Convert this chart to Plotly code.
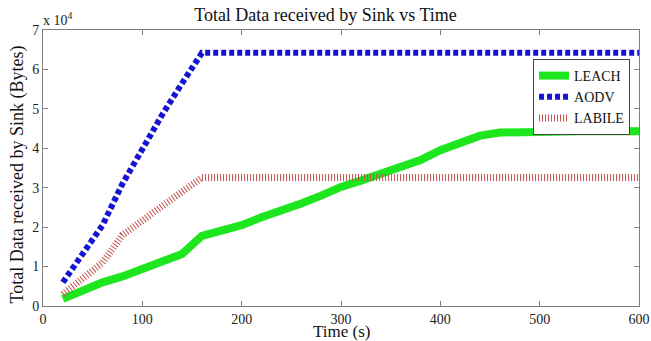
import plotly.graph_objects as go

# Simulation time (s)
time_s = [20, 40, 60, 80, 100, 120, 140, 160, 180, 200, 220, 240, 260, 280, 300,
          320, 340, 360, 380, 400, 420, 440, 460, 480, 500, 520, 540, 560, 580, 600]

# Cumulative bytes received by the sink
leach = [1800, 4000, 6000, 7500, 9500, 11500, 13200, 17800, 19000, 20500, 22500, 24000,
         26000, 28000, 30200, 31800, 33500, 35500, 37000, 39500, 41500, 43200, 44000,
         44200, 44300, 44300, 44300, 44400, 44300, 44300]
aodv = [6000, 13000, 20500, 31000, 40000, 48500, 56500, 64200, 64200, 64200, 64200, 64200,
        64200, 64200, 64200, 64200, 64200, 64200, 64200, 64200, 64200, 64200, 64200,
        64200, 64200, 64200, 64200, 64200, 64200, 64200]
labile = [3000, 7000, 11000, 18000, 21800, 25400, 29000, 32600, 32600, 32600, 32600, 32600,
          32600, 32600, 32600, 32600, 32600, 32600, 32600, 32600, 32600, 32600, 32600,
          32600, 32600, 32600, 32600, 32600, 32600, 32600]

x_ticks = [0, 100, 200, 300, 400, 500, 600]
y_ticks = [0, 10000, 20000, 30000, 40000, 50000, 60000, 70000]
y_tick_text = ["0", "1", "2", "3", "4", "5", "6", "7"]

serif = "Liberation Serif, Times New Roman, serif"

fig = go.Figure()
fig.add_trace(go.Scatter(x=time_s, y=leach, name="LEACH", mode="lines",
                         line=dict(color="#1ee61e", width=8)))
fig.add_trace(go.Scatter(x=time_s, y=aodv, name="AODV", mode="lines",
                         line=dict(color="#1414d2", width=6, dash="5px,3px")))
fig.add_trace(go.Scatter(x=time_s, y=labile, name="LABILE", mode="lines",
                         line=dict(color="#c0504d", width=7, dash="1px,2px")))

axis_common = dict(showgrid=False, zeroline=False, showline=True, linecolor="#808080",
                   linewidth=1, mirror="ticks", ticks="inside", ticklen=5,
                   tickcolor="#808080", automargin=False,
                   tickfont=dict(family=serif, size=14, color="#222"))

fig.update_xaxes(range=[0, 600], tickvals=x_ticks, **axis_common)
fig.update_yaxes(range=[0, 70000], tickvals=y_ticks, ticktext=y_tick_text, **axis_common)

fig.update_layout(
    width=651, height=341,
    margin=dict(l=43, r=12, t=30, b=35),
    paper_bgcolor="white", plot_bgcolor="white",
    title=dict(text="Total Data received by Sink vs Time", x=0.5, xanchor="center",
               y=0.975, yanchor="top",
               font=dict(family=serif, size=18, color="#111")),
    legend=dict(x=0.985, xanchor="right", y=0.895, yanchor="top",
                bgcolor="white", bordercolor="#444", borderwidth=1,
                font=dict(family=serif, size=14, color="#111"),
                itemwidth=30, tracegroupgap=0),
    annotations=[
        dict(text="x 10<sup>4</sup>", xref="paper", yref="paper",
             x=0.0, y=1.0, xanchor="left", yanchor="bottom", showarrow=False,
             font=dict(family=serif, size=14, color="#222"), xshift=-2),
        dict(text="Time (s)", xref="paper", yref="paper", x=0.5, y=0.0,
             xanchor="center", yanchor="middle", showarrow=False, yshift=-25,
             font=dict(family=serif, size=17, color="#111")),
        dict(text="Total Data received by Sink (Bytes)", xref="paper", yref="paper",
             x=-0.042, y=0.476, xanchor="center", yanchor="middle", textangle=-90,
             showarrow=False, font=dict(family=serif, size=18, color="#111")),
    ],
)

fig.write_html("out.html")
